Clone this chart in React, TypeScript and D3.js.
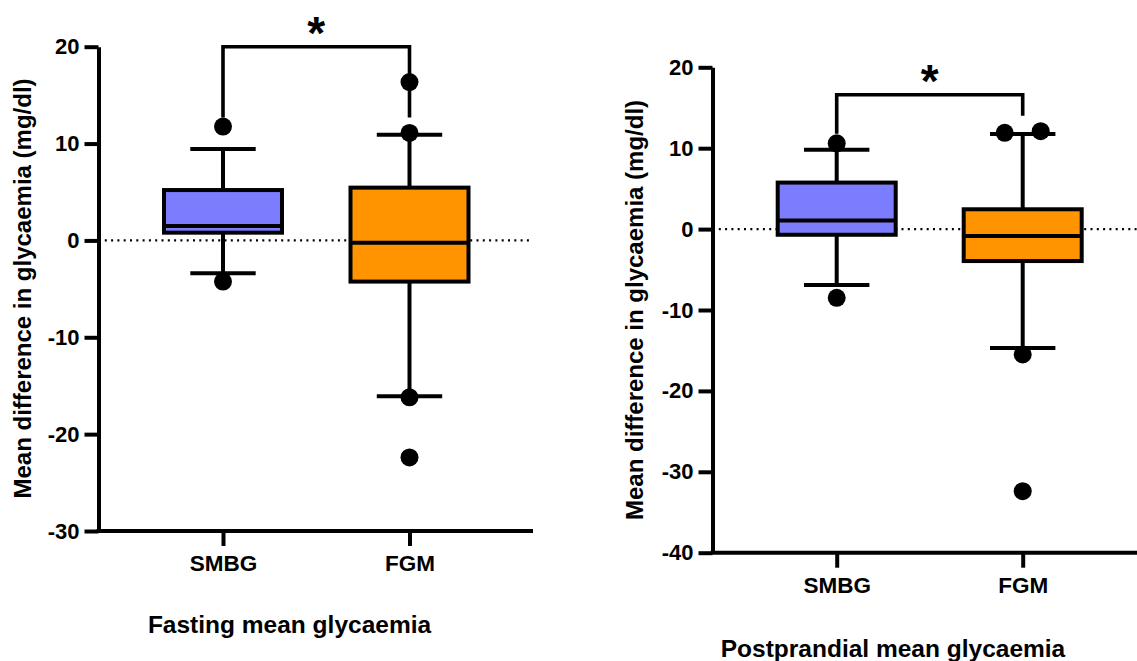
import React, { useEffect, useRef } from 'react';
import * as d3 from 'd3';

const groups = ["SMBG", "FGM"];

// fasting mean glycaemia: box stats per group
const fastTicks = [-30, -20, -10, 0, 10, 20];
const fastLow = [-3.4, -16.1];
const fastQ1 = [0.8, -4.25];
const fastMedian = [1.5, -0.25];
const fastQ3 = [5.2, 5.45];
const fastHigh = [9.45, 10.9];
const fastOutliers = [[11.75, -4.25], [16.35, 11.1, -16.2, -22.4]];
const fastSig = { top: 20, legs: [12.7, 12.7] };

// postprandial mean glycaemia
const postTicks = [-40, -30, -20, -10, 0, 10, 20];
const postLow = [-6.9, -14.7];
const postQ1 = [-0.7, -3.95];
const postMedian = [1.05, -0.85];
const postQ3 = [5.75, 2.45];
const postHigh = [9.8, 11.75];
const postOutliers = [[10.6, -8.5], [11.9, 12.1, -15.5, -32.4]];
const postSig = { top: 16.6, legs: [11.8, 14.0] };

const fills = ["#7c7cff", "#ff9300"];
const FONT = "'Liberation Sans', Arial, sans-serif";

const panels = [
    {
        title: "Fasting mean glycaemia", ticks: fastTicks,
        low: fastLow, q1: fastQ1, med: fastMedian, q3: fastQ3, high: fastHigh,
        outliers: fastOutliers, sig: fastSig,
        left: 98.5, right: 533, top: 46.7, bottom: 531, cx: [223, 409.5],
        titleX: 289.5, titleY: 633, labelX: 30.5, labelY: 288.5, starY: 48.5,
    },
    {
        title: "Postprandial mean glycaemia", ticks: postTicks,
        low: postLow, q1: postQ1, med: postMedian, q3: postQ3, high: postHigh,
        outliers: postOutliers, sig: postSig,
        left: 712.5, right: 1140, top: 67.3, bottom: 552.7, cx: [836.7, 1022.7],
        titleX: 893, titleY: 657, labelX: 642.5, labelY: 310, starY: 97,
    },
];

const BoxPlots = () => {
    const ref = useRef();

    useEffect(() => {
        const svg = d3.select(ref.current);
        svg.selectAll("*").remove();

        panels.forEach((p) => {
            const y = d3.scaleLinear()
                .domain(d3.extent(p.ticks))
                .range([p.bottom, p.top]);
            const x = d3.scalePoint()
                .domain(groups)
                .range(p.cx);

            const g = svg.append("g");
            const halfBox = 59, halfCap = 32.7;

            // zero reference line
            g.append("line")
                .attr("x1", p.left).attr("x2", p.right)
                .attr("y1", y(0)).attr("y2", y(0))
                .attr("stroke", "#000")
                .attr("stroke-width", 2.2)
                .attr("stroke-dasharray", "2,4.3");

            groups.forEach((name, i) => {
                const cx = x(name);
                // whiskers
                [[p.q3[i], p.high[i]], [p.q1[i], p.low[i]]].forEach(([a, b]) => {
                    g.append("line")
                        .attr("x1", cx).attr("x2", cx)
                        .attr("y1", y(a)).attr("y2", y(b))
                        .attr("stroke", "#000").attr("stroke-width", 4);
                    g.append("line")
                        .attr("x1", cx - halfCap).attr("x2", cx + halfCap)
                        .attr("y1", y(b)).attr("y2", y(b))
                        .attr("stroke", "#000").attr("stroke-width", 4);
                });
                // box
                g.append("rect")
                    .attr("x", cx - halfBox)
                    .attr("width", halfBox * 2)
                    .attr("y", y(p.q3[i]))
                    .attr("height", y(p.q1[i]) - y(p.q3[i]))
                    .attr("fill", fills[i])
                    .attr("stroke", "#000")
                    .attr("stroke-width", 4);
                g.append("line")
                    .attr("x1", cx - halfBox).attr("x2", cx + halfBox)
                    .attr("y1", y(p.med[i])).attr("y2", y(p.med[i]))
                    .attr("stroke", "#000").attr("stroke-width", 4);
                // outliers, spread sideways when two nearly coincide
                const vals = p.outliers[i];
                vals.forEach((v, j) => {
                    const twin = vals.findIndex((w, k) => k !== j && Math.abs(w - v) < 1);
                    const dx = twin < 0 ? 0 : (j < twin ? -18 : 18);
                    g.append("circle")
                        .attr("cx", cx + dx)
                        .attr("cy", y(v))
                        .attr("r", 9)
                        .attr("fill", "#000");
                });
            });

            // significance bracket
            const [xa, xb] = groups.map(x);
            g.append("path")
                .attr("d", `M${xa},${y(p.sig.legs[0])}V${y(p.sig.top)}H${xb}V${y(p.sig.legs[1])}`)
                .attr("fill", "none")
                .attr("stroke", "#000")
                .attr("stroke-width", 3.6);
            g.append("text")
                .attr("x", (xa + xb) / 2)
                .attr("y", p.starY)
                .attr("text-anchor", "middle")
                .style("font", `bold 46px ${FONT}`)
                .text("*");

            // y axis
            const yAxis = g.append("g")
                .attr("transform", `translate(${p.left},0)`)
                .call(d3.axisLeft(y)
                    .tickValues(p.ticks)
                    .tickSize(14)
                    .tickSizeOuter(0)
                    .tickPadding(5)
                    .tickFormat((d) => String(d)));
            yAxis.select(".domain").attr("stroke-width", 4);
            yAxis.selectAll(".tick line").attr("stroke-width", 4);
            yAxis.selectAll(".tick text")
                .attr("fill", "#000")
                .style("font", `bold 22px ${FONT}`);

            // x axis
            g.append("line")
                .attr("x1", p.left - 2).attr("x2", p.right)
                .attr("y1", p.bottom).attr("y2", p.bottom)
                .attr("stroke", "#000").attr("stroke-width", 4);
            const xAxis = g.append("g")
                .attr("transform", `translate(0,${p.bottom})`)
                .call(d3.axisBottom(x).tickSize(15).tickPadding(9.5));
            xAxis.select(".domain").remove();
            xAxis.selectAll(".tick line").attr("stroke-width", 4);
            xAxis.selectAll(".tick text")
                .attr("fill", "#000")
                .style("font", `bold 22.5px ${FONT}`);

            // titles
            g.append("text")
                .attr("x", p.titleX).attr("y", p.titleY)
                .attr("text-anchor", "middle")
                .style("font", `bold 24.5px ${FONT}`)
                .text(p.title);
            g.append("text")
                .attr("transform", `translate(${p.labelX},${p.labelY}) rotate(-90)`)
                .attr("text-anchor", "middle")
                .style("font", `bold 24px ${FONT}`)
                .text("Mean difference in glycaemia (mg/dl)");
        });
    }, []);

    return (
        <svg ref={ref} width="1137" height="661"
            style={{ position: 'absolute', left: 0, top: 0, background: '#fff' }}></svg>
    );
};

export default function App() {
    return <BoxPlots />;
}
